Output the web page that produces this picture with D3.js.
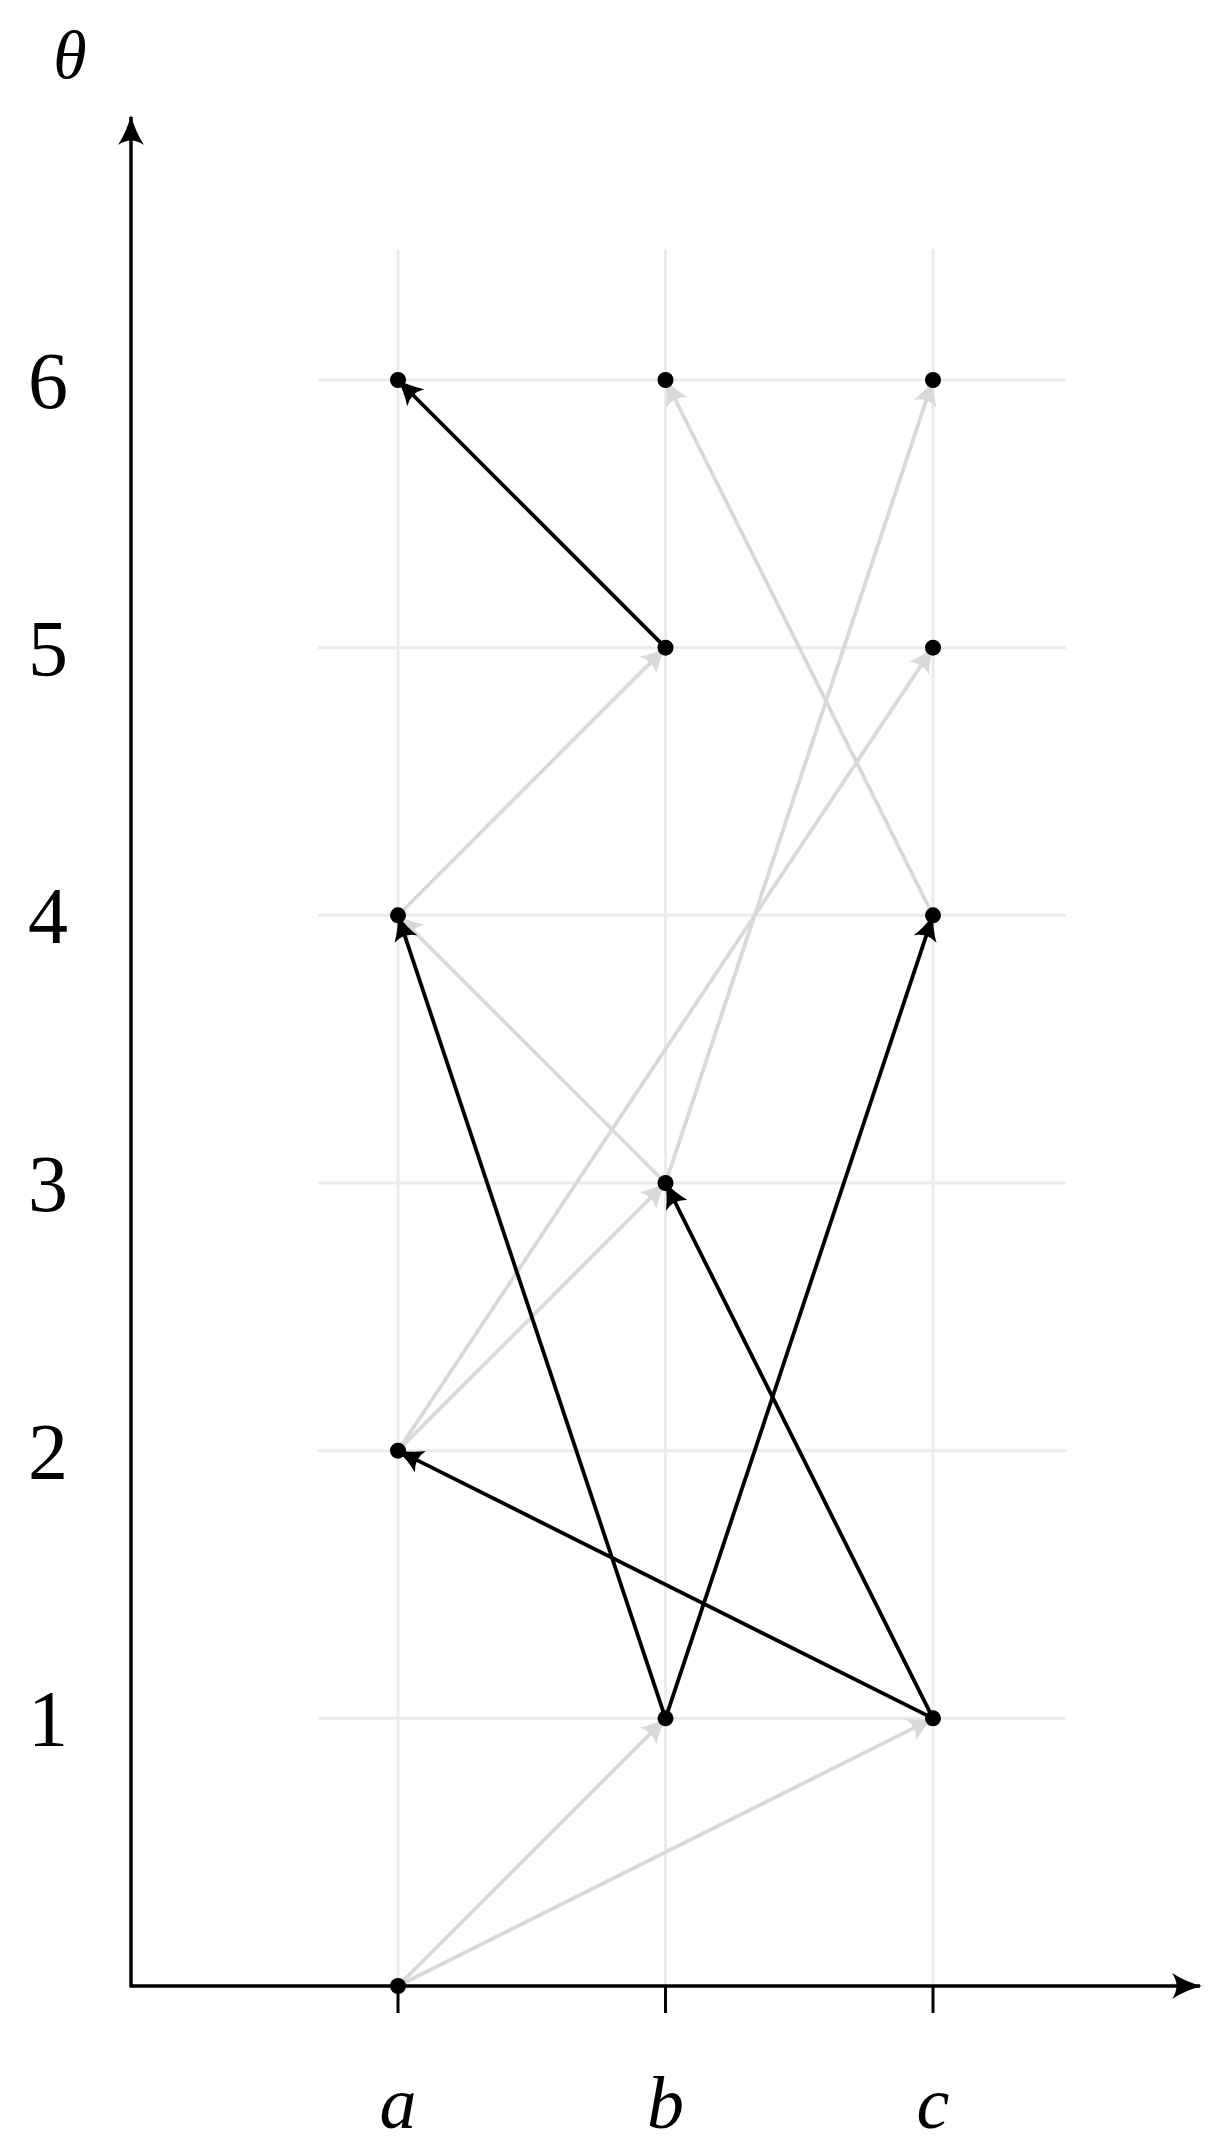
<!DOCTYPE html>
<html><head><meta charset="utf-8">
<script src="https://cdn.jsdelivr.net/npm/d3@7"></script>
<style>body{margin:0;background:#fff}</style>
</head><body><div id="chart"></div>
<script>
const categories = ["a", "b", "c"];
const yTicks = [1, 2, 3, 4, 5, 6];
const points = [["a",0],["a",2],["a",4],["a",6],["b",1],["b",3],["b",5],["b",6],["c",1],["c",4],["c",5],["c",6]];
// [from, to] pairs
const grayEdges = [[["a",0],["b",1]],[["a",0],["c",1]],[["a",2],["b",3]],[["a",2],["c",5]],
  [["a",4],["b",5]],[["b",3],["c",6]],[["c",4],["b",6]],[["b",3],["a",4]]];
const blackEdges = [[["b",5],["a",6]],[["b",1],["a",4]],[["b",1],["c",4]],[["c",1],["a",2]],[["c",1],["b",3]]];

const width = 1216, height = 2152;
const x = d3.scalePoint().domain(categories).range([398, 933]);
const y = d3.scaleLinear().domain([0, 6]).range([1986, 380]);
const x0 = 131;

const svg = d3.select("#chart").append("svg").attr("width", width).attr("height", height);
const defs = svg.append("defs");
[["arrK", "#000"], ["arrG", "#d9d9d9"]].forEach(([id, c]) => {
  defs.append("marker").attr("id", id).attr("viewBox", "0 0 30 30").attr("refX", 27).attr("refY", 15)
    .attr("markerWidth", 30).attr("markerHeight", 30).attr("markerUnits", "userSpaceOnUse").attr("orient", "auto")
    .append("path").attr("d", "M2,3 Q14,11 28,15 Q14,19 2,27 Q9,15 2,3Z").attr("fill", c);
});
defs.append("marker").attr("id", "axArr").attr("viewBox", "0 0 34 34").attr("refX", 30).attr("refY", 17)
  .attr("markerWidth", 34).attr("markerHeight", 34).attr("markerUnits", "userSpaceOnUse").attr("orient", "auto")
  .append("path").attr("d", "M2,4 Q16,13 32,17 Q16,21 2,30 Q11,17 2,4Z").attr("fill", "#000");

// grid
svg.selectAll(".hg").data(yTicks).join("line").attr("x1", 318).attr("x2", 1066)
  .attr("y1", d => y(d)).attr("y2", d => y(d)).attr("stroke", "#ebebeb").attr("stroke-width", 3);
svg.selectAll(".vg").data(categories).join("line").attr("x1", d => x(d)).attr("x2", d => x(d))
  .attr("y1", 249).attr("y2", y(0)).attr("stroke", "#ebebeb").attr("stroke-width", 3);

// axes
svg.append("line").attr("x1", x0).attr("x2", x0).attr("y1", y(0)).attr("y2", 117)
  .attr("stroke", "#000").attr("stroke-width", 3.5).attr("marker-end", "url(#axArr)");
svg.append("line").attr("x1", x0 - 1.5).attr("x2", 1200).attr("y1", y(0)).attr("y2", y(0))
  .attr("stroke", "#000").attr("stroke-width", 3.5).attr("marker-end", "url(#axArr)");
svg.selectAll(".xt").data(categories).join("line").attr("x1", d => x(d)).attr("x2", d => x(d))
  .attr("y1", y(0)).attr("y2", y(0) + 27).attr("stroke", "#000").attr("stroke-width", 3);
svg.selectAll(".xl").data(categories).join("text").attr("x", d => x(d)).attr("y", 2128)
  .attr("text-anchor", "middle").attr("font-family", "Liberation Serif").attr("font-style", "italic")
  .attr("font-size", 74).text(d => d);
svg.selectAll(".yl").data(yTicks).join("text").attr("x", 48).attr("y", d => y(d)).attr("dy", "0.35em")
  .attr("text-anchor", "middle").attr("font-family", "Liberation Serif").attr("font-size", 80).text(d => d);
svg.append("text").attr("x", 70).attr("y", 78).attr("text-anchor", "middle").attr("font-family", "Liberation Serif")
  .attr("font-style", "italic").attr("font-size", 68).text("θ");

// edges
function drawEdges(data, color, marker) {
  svg.append("g").selectAll("line").data(data).join("line")
    .attr("x1", d => x(d[0][0])).attr("y1", d => y(d[0][1]))
    .attr("x2", d => x(d[1][0])).attr("y2", d => y(d[1][1]))
    .attr("stroke", color).attr("stroke-width", 3.8).attr("marker-end", `url(#${marker})`);
}
drawEdges(grayEdges, "#d9d9d9", "arrG");
drawEdges(blackEdges, "#000", "arrK");

svg.selectAll(".pt").data(points).join("circle").attr("cx", d => x(d[0])).attr("cy", d => y(d[1]))
  .attr("r", 8).attr("fill", "#000");
</script></body></html>
